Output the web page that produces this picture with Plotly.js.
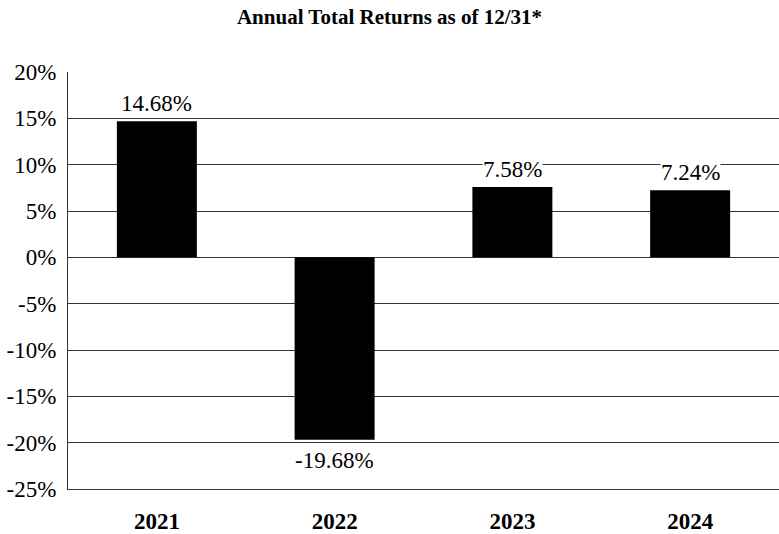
<!DOCTYPE html>
<html>
<head>
<meta charset="utf-8">
<script src="https://cdn.plot.ly/plotly-3.0.1.min.js"></script>
<style>html,body{margin:0;padding:0;background:#fff;}#chart{width:779px;height:534px;}</style>
</head>
<body>
<div id="chart"></div>
<script>
const years = ['2021', '2022', '2023', '2024'];
const returns = [14.68, -19.68, 7.58, 7.24];
const labels = ['14.68%', '-19.68%', '7.58%', '7.24%'];
const yTicks = [20, 15, 10, 5, 0, -5, -10, -15, -20, -25];
const yTickText = ['20%', '15%', '10%', '5%', '0%', '-5%', '-10%', '-15%', '-20%', '-25%'];

const font = '"Liberation Serif", "Times New Roman", Times, serif';

const annotations = years.map((y, i) => ({
  x: i, y: returns[i], xref: 'x', yref: 'y',
  text: labels[i], showarrow: false,
  yanchor: returns[i] >= 0 ? 'bottom' : 'top',
  yshift: returns[i] >= 0 ? 4 : -7,
  bgcolor: '#ffffff', borderpad: 0,
  font: {family: font, size: 23, color: '#000'}
}));

Plotly.newPlot('chart', [{
  type: 'bar', x: years, y: returns,
  marker: {color: '#000000', line: {width: 0}},
  width: 0.45, hoverinfo: 'none'
}], {
  width: 779, height: 534,
  margin: {l: 68, r: 0, t: 72, b: 45},
  paper_bgcolor: '#fff', plot_bgcolor: '#fff',
  font: {family: font},
  title: {text: 'Annual Total Returns as of 12/31*', x: 0.5, xanchor: 'center', y: 0.968, yanchor: 'middle',
    font: {family: font, size: 21, color: '#000', weight: 'bold'}},
  showlegend: false,
  xaxis: {type: 'category', categoryorder: 'array', categoryarray: years,
    range: [-0.5, 3.5], showgrid: false, zeroline: false,
    showline: true, linecolor: '#333', linewidth: 1,
    tickfont: {family: font, size: 23, color: '#000', weight: 'bold'}, ticklabelstandoff: 11,
    tickangle: 0, fixedrange: true},
  yaxis: {range: [-25, 20], tickvals: yTicks, ticktext: yTickText,
    showgrid: true, gridcolor: '#333', gridwidth: 1,
    zeroline: true, zerolinecolor: '#333', zerolinewidth: 1,
    showline: true, linecolor: '#333', linewidth: 1,
    tickfont: {family: font, size: 23, color: '#000'}, ticklabelstandoff: 6, fixedrange: true},
  annotations: annotations
}, {displayModeBar: false, staticPlot: true});
</script>
</body>
</html>
